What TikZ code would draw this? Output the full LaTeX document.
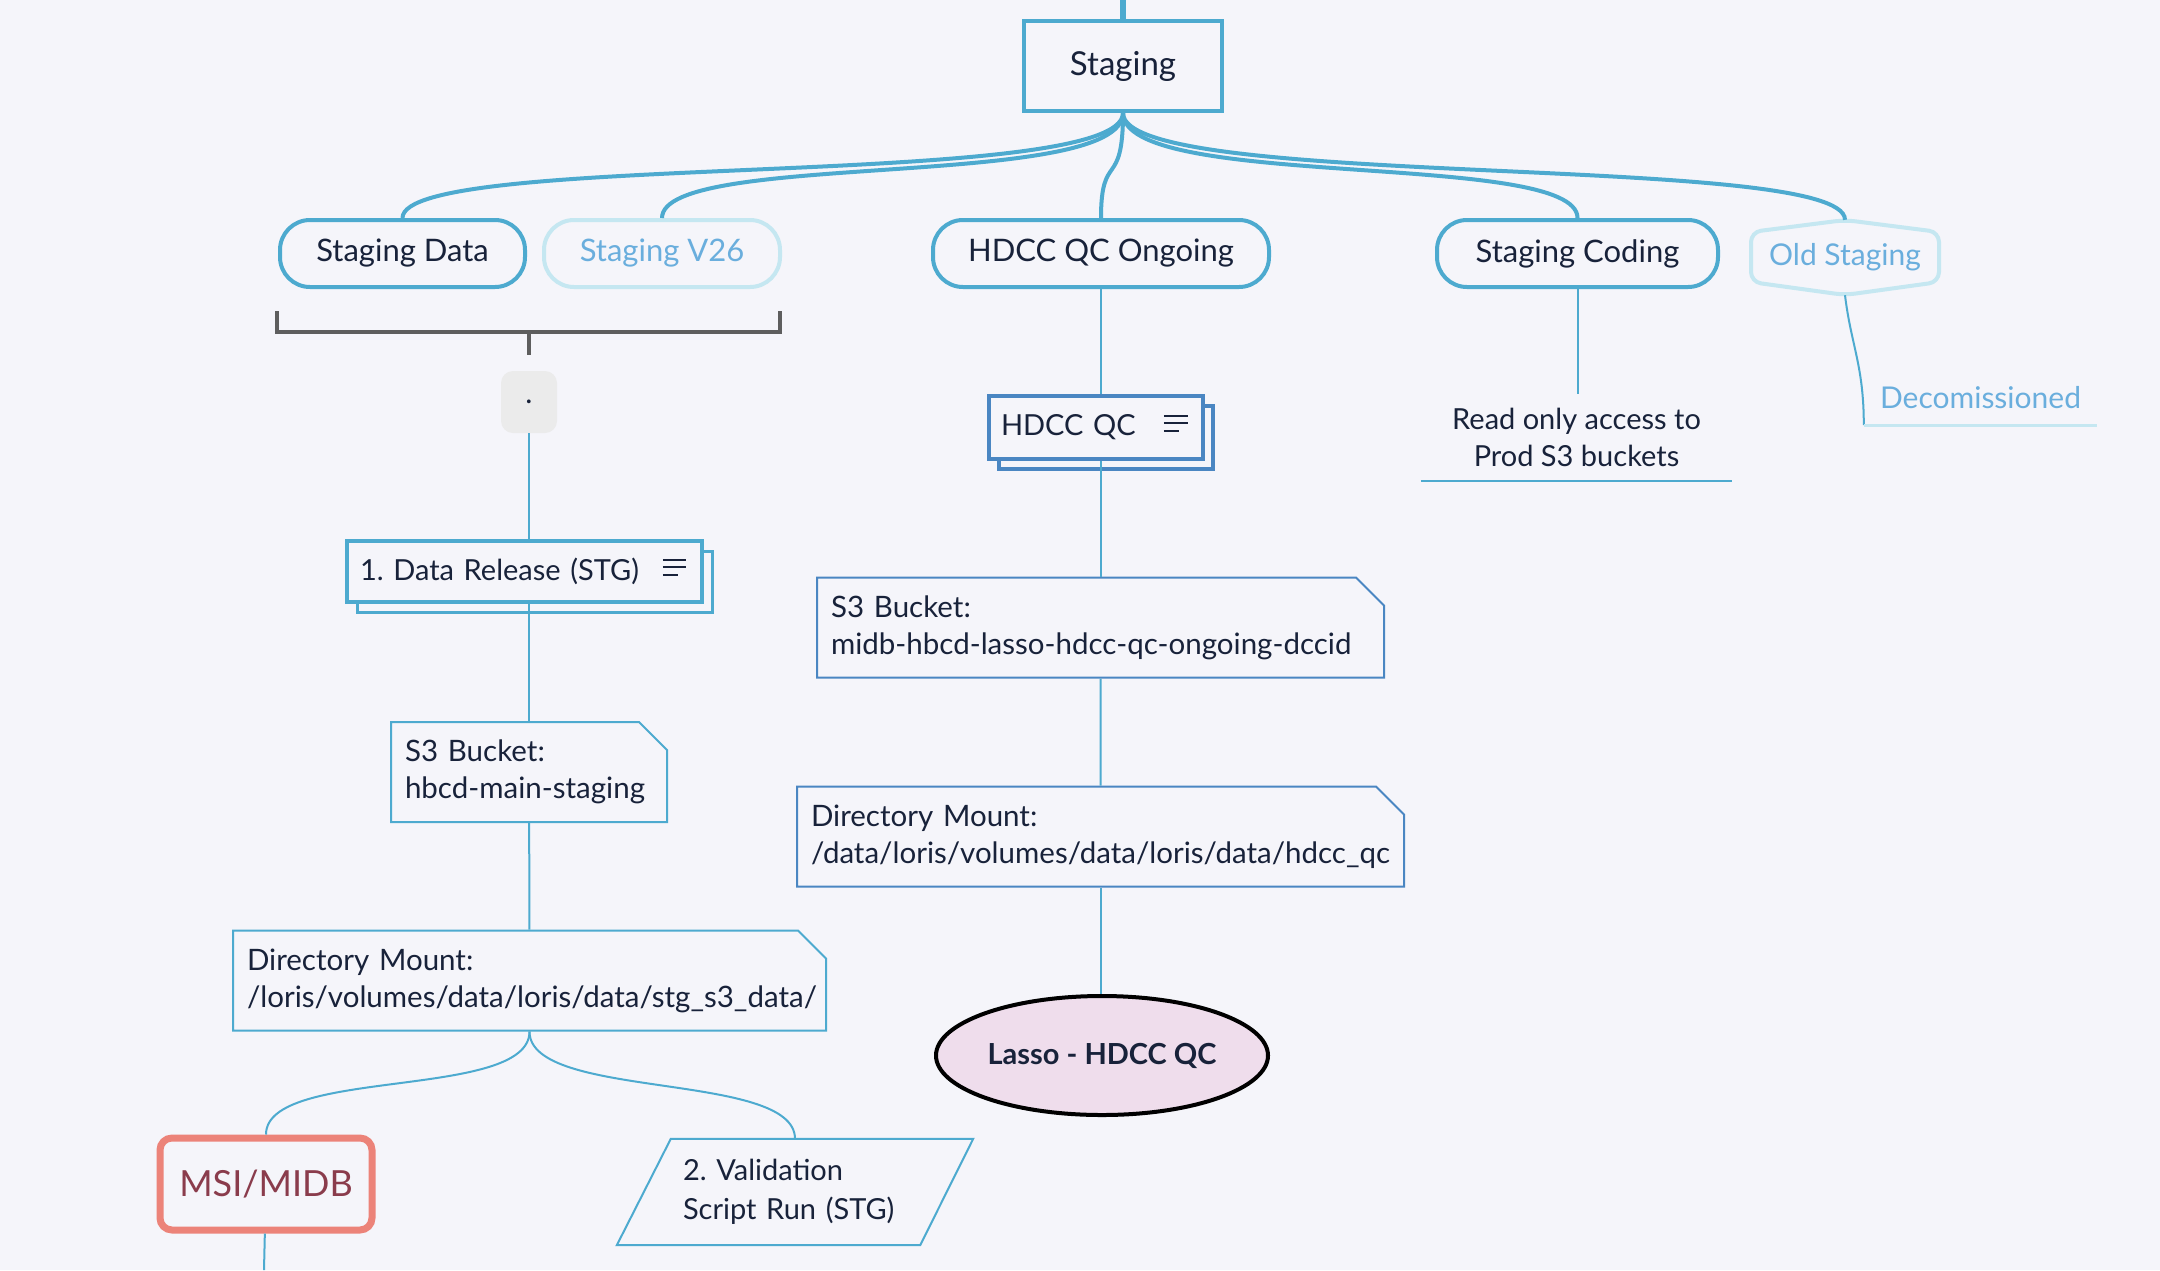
\documentclass[tikz,border=0pt]{standalone}
\usepackage{fontspec}
\setmainfont{Lato}
\usepackage{tikz}
\usetikzlibrary{positioning,shapes.misc,shapes.geometric}
\definecolor{paper}{HTML}{F5F5FA}
\definecolor{branch}{HTML}{4DAACF}
\definecolor{faded}{HTML}{C5E7F1}
\definecolor{fadedtext}{HTML}{6AAEDD}
\definecolor{qcblue}{HTML}{4A86C2}
\definecolor{ink}{HTML}{18223A}
\definecolor{bracketgray}{HTML}{5E5E5E}
\definecolor{dotfill}{HTML}{EBEBEB}
\definecolor{msi}{HTML}{EC8379}
\definecolor{msitext}{HTML}{8A3C4C}
\definecolor{lasso}{HTML}{EFDDEC}

\begin{document}
\begin{tikzpicture}[
  x=1pt,y=-1pt,
  every node/.style={font=\fontsize{30}{36}\selectfont,text=ink,align=center,inner sep=0pt},
  topic/.style={draw=branch,line width=4pt,fill=paper,minimum width=198pt,minimum height=90pt,font=\fontsize{33}{40}\selectfont},
  subtopic/.style={draw=branch,line width=4pt,fill=paper,rounded corners=30pt,minimum height=67pt,font=\fontsize{31}{36}\selectfont},
  fadedtopic/.style={subtopic,draw=faded,text=fadedtext},
  stackbox/.style={draw=branch,line width=3.5pt,fill=paper,align=left,font=\fontsize{29}{35}\selectfont},
  notebox/.style={chamfered rectangle,chamfered rectangle corners=north east,chamfered rectangle sep=14pt,
    draw=branch,line width=2pt,fill=paper,minimum height=100pt,align=left,font=\fontsize{29.5}{37}\selectfont},
  leaf/.style={font=\fontsize{29}{37}\selectfont},
  trunk/.style={draw=branch,line width=6pt},
  branchline/.style={draw=branch,line width=4pt},
  link/.style={draw=branch,line width=2pt},
  iconline/.style={draw=ink,line width=2pt}
]
\useasboundingbox (0,0) rectangle (2160,1270);
\fill[paper] (0,0) rectangle (2160,1270);

\coordinate (top) at (1123,0);
\node[topic] (staging) at (1123,66) {Staging};
\draw[trunk] (top) -- (staging.north);

\node[subtopic,minimum width=245pt] (sdata) at (402.5,253.5) {Staging Data};
\node[fadedtopic,minimum width=236pt] (sv26) at (662,253.5) {Staging V26};
\node[subtopic,minimum width=336pt] (ongoing) at (1101,253.5) {HDCC QC Ongoing};
\node[subtopic,minimum width=281pt] (coding) at (1577.5,253.5) {Staging Coding};
\node[text=fadedtext,minimum width=189pt,minimum height=75pt] (old) at (1845,257.5) {Old Staging};
\draw[faded,line width=4pt,rounded corners=10pt] (1751,257) -- (1751,232) -- (1845,220) -- (1939,232)
  -- (1939,282) -- (1845,295) -- (1751,282) -- cycle;

\draw[branchline] (staging.south) .. controls +(0,78) and +(0,-68) .. (sdata.north);
\draw[branchline] (staging.south) .. controls +(0,78) and +(0,-68) .. (sv26.north);
\draw[branchline] (staging.south) .. controls +(0,78) and +(0,-68) .. (ongoing.north);
\draw[branchline] (staging.south) .. controls +(0,78) and +(0,-68) .. (coding.north);
\draw[branchline] (staging.south) .. controls +(0,78) and +(0,-68) .. (old.north);

\draw[bracketgray,line width=4pt] (277,311) -- (277,332) -- (780,332) -- (780,311);
\draw[bracketgray,line width=4pt] (529,332) -- (529,355);
\node[fill=dotfill,rounded corners=12pt,minimum width=56pt,minimum height=62pt] (dot) at (529,402) {.};

\node[stackbox,minimum width=355pt,minimum height=61pt] (releaseback) at (535,582) {};
\node[stackbox,minimum width=355pt,minimum height=61pt,text width=329pt] (release) at (524.5,571.5) {1.\ Data Release (STG)};
\draw[iconline] ([shift={(-41,-12)}]release.east) -- ++(23,0);
\draw[iconline] ([shift={(-41,-4.5)}]release.east) -- ++(23,0);
\draw[iconline] ([shift={(-41,3)}]release.east) -- ++(15,0);

\node[notebox,minimum width=264pt,text width=248pt] (s3stg) at (529,772) {S3 Bucket:\\hbcd-main-staging};
\node[notebox,minimum width=581pt,text width=565pt] (dirstg) at (529.5,980.5) {Directory Mount:\\/loris/volumes/data/loris/data/stg\_s3\_data/};
\draw[link] (dot.south) -- (dot.south |- release.north);
\draw[link] (s3stg.north |- release.south) -- (s3stg.north);
\draw[link] (s3stg) -- (dirstg);

\node[draw=msi,line width=7pt,rounded corners=12pt,fill=paper,minimum width=212pt,minimum height=92pt,
  text=msitext,font=\fontsize{36}{40}\selectfont] (msi) at (266,1184) {MSI/MIDB};
\node[minimum width=356pt,minimum height=106pt,text width=224pt,align=left,
  font=\fontsize{29}{39}\selectfont] (valid) at (795,1192) {2.\ Validation\\Script Run (STG)};
\draw[link] (valid.south west) -- ([shift={(-53,0)}]valid.south east) -- (valid.north east)
  -- ([shift={(54,0)}]valid.north west) -- cycle;
\coordinate (msiend) at (264,1270);
\draw[link] (dirstg.south) .. controls +(0,69) and +(0,-68) .. (msi.north);
\draw[link] (dirstg.south) .. controls +(0,69) and +(0,-68) .. (valid.north);
\draw[link] (msi) -- (msiend);

\node[stackbox,draw=qcblue,minimum width=214pt,minimum height=63pt] (hdccqcback) at (1106,437.5) {};
\node[stackbox,draw=qcblue,minimum width=214pt,minimum height=63pt,text width=190pt] (hdccqc) at (1096,427.5) {HDCC QC};
\draw[iconline] ([shift={(-41,-11.5)}]hdccqc.east) -- ++(24,0);
\draw[iconline] ([shift={(-41,-4.5)}]hdccqc.east) -- ++(24,0);
\draw[iconline] ([shift={(-41,3.5)}]hdccqc.east) -- ++(15,0);

\node[notebox,draw=qcblue,minimum width=555pt,text width=539pt] (midb) at (1100.5,627.5) {S3 Bucket:\\midb-hbcd-lasso-hdcc-qc-ongoing-dccid};
\node[notebox,draw=qcblue,minimum width=595pt,text width=579pt] (dirqc) at (1100.5,836.5) {Directory Mount:\\/data/loris/volumes/data/loris/data/hdcc\_qc};
\node[ellipse,draw=black,line width=4pt,fill=lasso,minimum width=332pt,minimum height=119pt,
  font=\bfseries\fontsize{29}{35}\selectfont] (lassoqc) at (1102,1055.5) {Lasso - HDCC QC};
\draw[link] (ongoing.south) -- (ongoing.south |- hdccqc.north);
\draw[link] (midb.north |- hdccqc.south) -- (midb.north);
\draw[link] (midb) -- (dirqc);
\draw[link] (dirqc.south) -- (dirqc.south |- lassoqc.north);

\node[leaf,minimum width=311pt,minimum height=87pt] (readonly) at (1576.5,437.5) {Read only access to\\Prod S3 buckets};
\draw[link] (coding.south) -- (coding.south |- readonly.north);
\draw[link] (readonly.south west) -- (readonly.south east);

\node[leaf,text=fadedtext,font=\fontsize{30}{36}\selectfont,minimum width=233pt,minimum height=54pt] (decom) at (1980.5,398) {Decomissioned};
\draw[link] (old.south) .. controls +(6,50) and +(0,-60) .. (decom.south west);
\draw[faded,line width=3pt] (decom.south west) -- (decom.south east);
\end{tikzpicture}
\end{document}
